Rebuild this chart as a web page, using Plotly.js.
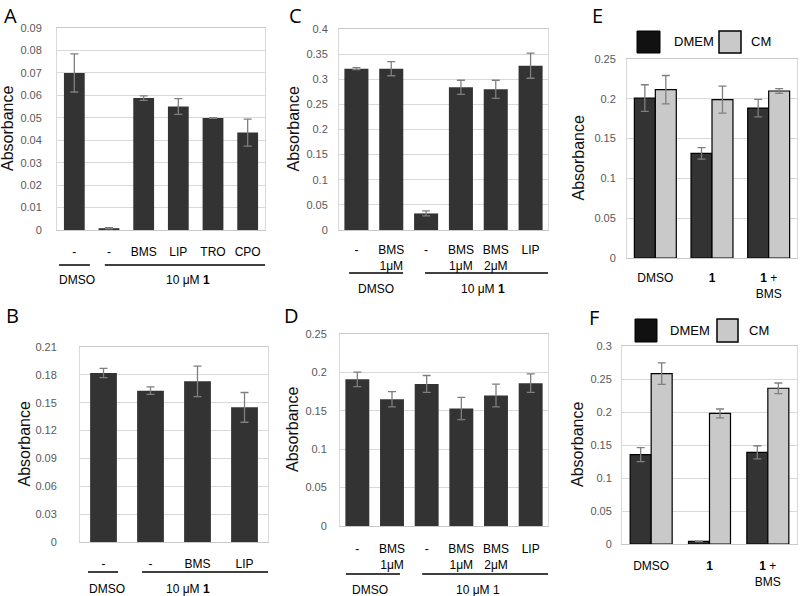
<!DOCTYPE html>
<html><head><meta charset="utf-8">
<script src="https://cdn.plot.ly/plotly-3.0.1.min.js"></script>
<style>html,body{margin:0;padding:0;background:#fff}</style>
</head><body><div id="chart" style="width:800px;height:596px"></div>
<script>
// ---- Data ----
// Panel A
const aLabels = ['-', '-', 'BMS', 'LIP', 'TRO', 'CPO'];
const aValues = [0.0700, 0.0008, 0.0588, 0.0550, 0.0499, 0.0434];
const aErrors = [0.0085, 0.0003, 0.0010, 0.0035, 0.0002, 0.0060];
// Panel B
const bLabels = ['-', '-', 'BMS', 'LIP'];
const bValues = [0.182, 0.163, 0.173, 0.145];
const bErrors = [0.005, 0.004, 0.0165, 0.016];
// Panel C
const cLabels = ['-', 'BMS<br>1μM', '-', 'BMS<br>1μM', 'BMS<br>2μM', 'LIP'];
const cValues = [0.321, 0.321, 0.033, 0.284, 0.280, 0.327];
const cErrors = [0.002, 0.014, 0.005, 0.014, 0.018, 0.025];
// Panel D
const dLabels = ['-', 'BMS<br>1μM', '-', 'BMS<br>1μM', 'BMS<br>2μM', 'LIP'];
const dValues = [0.191, 0.165, 0.185, 0.153, 0.170, 0.186];
const dErrors = [0.0094, 0.010, 0.011, 0.0144, 0.0148, 0.012];
// Panel E
const eGroups = ['DMSO', '<b>1</b>', '<b>1</b> +<br>BMS'];
const eDmem = [0.201, 0.1315, 0.1884];
const eDmemErr = [0.0167, 0.0073, 0.011];
const eCm = [0.2115, 0.199, 0.2098];
const eCmErr = [0.0178, 0.017, 0.003];
// Panel F
const fGroups = ['DMSO', '<b>1</b>', '<b>1</b> +<br>BMS'];
const fDmem = [0.1354, 0.004, 0.1389];
const fDmemErr = [0.0106, 0.0005, 0.010];
const fCm = [0.2582, 0.1978, 0.236];
const fCmErr = [0.0164, 0.0068, 0.008];
const seriesNames = ['DMEM', 'CM'];
const groupTitles = ['DMSO', '10 μM <b>1</b>'];
const groupTitlesD = ['DMSO', '10 μM 1'];

// ---- Layout helpers ----
const W = 800, H = 596;
const PX = x => x / W, PY = y => 1 - y / H;
const DARK = '#333333', LIGHT = '#c9c9c9', ERR = '#7f7f7f';
const FONT = 'Arial, "Liberation Sans", sans-serif';
const LETTER_FONT = '"Open Sans", "Noto Sans", sans-serif';

const panels = [
  {n:1, letter:'A', lp:[2,0], box:[57,265,28,230], yMax:0.09, dtick:0.01, ystand:12, titleX:8,
   labels:aLabels, vals:aValues, errs:aErrors, bw:0.6, xstand:11,
   groups:groupTitles, lines:[[-0.44,0.45],[0.88,5.6]], lineY:265, gx:[0.08,3.28], gY:280},
  {n:2, letter:'B', lp:[4,300], box:[80,268,347,542], yMax:0.21, dtick:0.03, ystand:20, titleX:24,
   labels:bLabels, vals:bValues, errs:bErrors, bw:0.57, xstand:11,
   groups:groupTitles, lines:[[-0.33,0.31],[0.82,3.5]], lineY:572, gx:[0.07,1.8], gY:589},
  {n:3, letter:'C', lp:[287,0], box:[339,548,29,230], yMax:0.4, dtick:0.05, ystand:8, titleX:293,
   labels:cLabels, vals:cValues, errs:cErrors, bw:0.69, xstand:9,
   groups:groupTitles, lines:[[-0.21,1.34],[1.97,5.5]], lineY:273, gx:[0.56,3.63], gY:289},
  {n:4, letter:'D', lp:[282,300], box:[340,548,334,526], yMax:0.25, dtick:0.05, ystand:10, titleX:292,
   labels:dLabels, vals:dValues, errs:dErrors, bw:0.69, xstand:12,
   groups:groupTitlesD, lines:[[-0.33,1.23],[1.87,5.56]], lineY:574, gx:[0.37,3.48], gY:590},
  {n:5, letter:'E', lp:[590,0], box:[627,797,59,258], yMax:0.25, dtick:0.05, ystand:8, titleX:578,
   labels:eGroups, dmem:eDmem, dmemErr:eDmemErr, cm:eCm, cmErr:eCmErr, bw:0.37, xstand:9,
   legend:{y:[31,53], k:[637,660], kt:672, g:[719,741], gt:749}},
  {n:6, letter:'F', lp:[587,302], box:[622,797,346,544], yMax:0.3, dtick:0.05, ystand:7, titleX:578,
   labels:fGroups, dmem:fDmem, dmemErr:fDmemErr, cm:fCm, cmErr:fCmErr, bw:0.36, xstand:11,
   legend:{y:[319,342], k:[635,657], kt:668, g:[717,738], gt:747}}
];

const data = [];
const layout = {
  width: W, height: H, margin:{l:0,r:0,t:0,b:0},
  paper_bgcolor:'#fff', plot_bgcolor:'#fff',
  font:{family:FONT, color:'#000'},
  barmode:'overlay', showlegend:false,
  annotations:[], shapes:[]
};

panels.forEach(p => {
  const sfx = p.n === 1 ? '' : String(p.n);
  const xa = 'x' + sfx, ya = 'y' + sfx;
  const idx = p.labels.map((_, i) => i);
  const [l, r, t, b] = p.box;
  const errStyle = {type:'data', visible:true, color:ERR, thickness:1.3, width:4};
  if (p.vals) {
    data.push({type:'bar', x:idx, y:p.vals, width:p.bw, xaxis:xa, yaxis:ya,
      marker:{color:DARK, line:{width:0}},
      error_y:Object.assign({array:p.errs}, errStyle), hoverinfo:'y'});
  } else {
    data.push({type:'bar', name:seriesNames[0], x:idx, y:p.dmem, width:p.bw, offset:-p.bw,
      xaxis:xa, yaxis:ya, marker:{color:DARK, line:{color:'#000', width:1.2}},
      error_y:Object.assign({array:p.dmemErr}, errStyle)});
    data.push({type:'bar', name:seriesNames[1], x:idx, y:p.cm, width:p.bw, offset:0,
      xaxis:xa, yaxis:ya, marker:{color:LIGHT, line:{color:'#000', width:1.2}},
      error_y:Object.assign({array:p.cmErr}, errStyle)});
  }
  layout['xaxis' + sfx] = {
    domain:[PX(l), PX(r)], anchor:ya, range:[-0.5, idx.length - 0.5],
    tickmode:'array', tickvals:idx, ticktext:p.labels,
    showgrid:false, zeroline:false, showline:true, linecolor:'#c8c8c8', linewidth:1, mirror:true,
    ticks:'', ticklabelstandoff:p.xstand, tickfont:{size:12, color:'#000', family:FONT}, fixedrange:true
  };
  layout['yaxis' + sfx] = {
    domain:[PY(b), PY(t)], anchor:xa, range:[0, p.yMax * 1.0001], tick0:0, dtick:p.dtick,
    showgrid:true, gridcolor:'#d9d9d9', gridwidth:1, zeroline:false,
    showline:true, linecolor:'#d9d9d9', linewidth:1, mirror:true,
    ticks:'', ticklabelstandoff:p.ystand, tickfont:{size:11, color:'#595959', family:FONT}, fixedrange:true
  };
  // axis title
  layout.annotations.push({text:'Absorbance', xref:'paper', yref:'paper', x:PX(p.titleX), y:PY((t + b) / 2),
    textangle:-90, showarrow:false, xanchor:'center', yanchor:'middle', font:{size:16, color:'#111', family:FONT}});
  // panel letter
  layout.annotations.push({text:p.letter, xref:'paper', yref:'paper', x:PX(p.lp[0]), y:PY(p.lp[1]),
    showarrow:false, xanchor:'left', yanchor:'top', font:{size:20, color:'#000', family:LETTER_FONT}});
  // group brackets
  if (p.groups) {
    p.lines.forEach((ln, i) => {
      layout.shapes.push({type:'line', xref:xa, yref:'paper', x0:ln[0], x1:ln[1], y0:PY(p.lineY), y1:PY(p.lineY),
        line:{color:'#000', width:1.5}});
      layout.annotations.push({text:p.groups[i], xref:xa, yref:'paper', x:p.gx[i], y:PY(p.gY),
        showarrow:false, xanchor:'center', yanchor:'middle', font:{size:12, color:'#000', family:FONT}});
    });
  }
  // legend (drawn keys)
  if (p.legend) {
    const L = p.legend;
    layout.shapes.push({type:'rect', xref:'paper', yref:'paper', x0:PX(L.k[0]), x1:PX(L.k[1]), y0:PY(L.y[1]), y1:PY(L.y[0]),
      fillcolor:'#111', line:{color:'#000', width:1}});
    layout.shapes.push({type:'rect', xref:'paper', yref:'paper', x0:PX(L.g[0]), x1:PX(L.g[1]), y0:PY(L.y[1]), y1:PY(L.y[0]),
      fillcolor:LIGHT, line:{color:'#000', width:1.5}});
    const ym = PY((L.y[0] + L.y[1]) / 2);
    layout.annotations.push({text:seriesNames[0], xref:'paper', yref:'paper', x:PX(L.kt), y:ym, showarrow:false,
      xanchor:'left', yanchor:'middle', font:{size:13, color:'#000', family:FONT}});
    layout.annotations.push({text:seriesNames[1], xref:'paper', yref:'paper', x:PX(L.gt), y:ym, showarrow:false,
      xanchor:'left', yanchor:'middle', font:{size:13, color:'#000', family:FONT}});
  }
});

Plotly.newPlot('chart', data, layout, {staticPlot:true, displayModeBar:false});
</script></body></html>
